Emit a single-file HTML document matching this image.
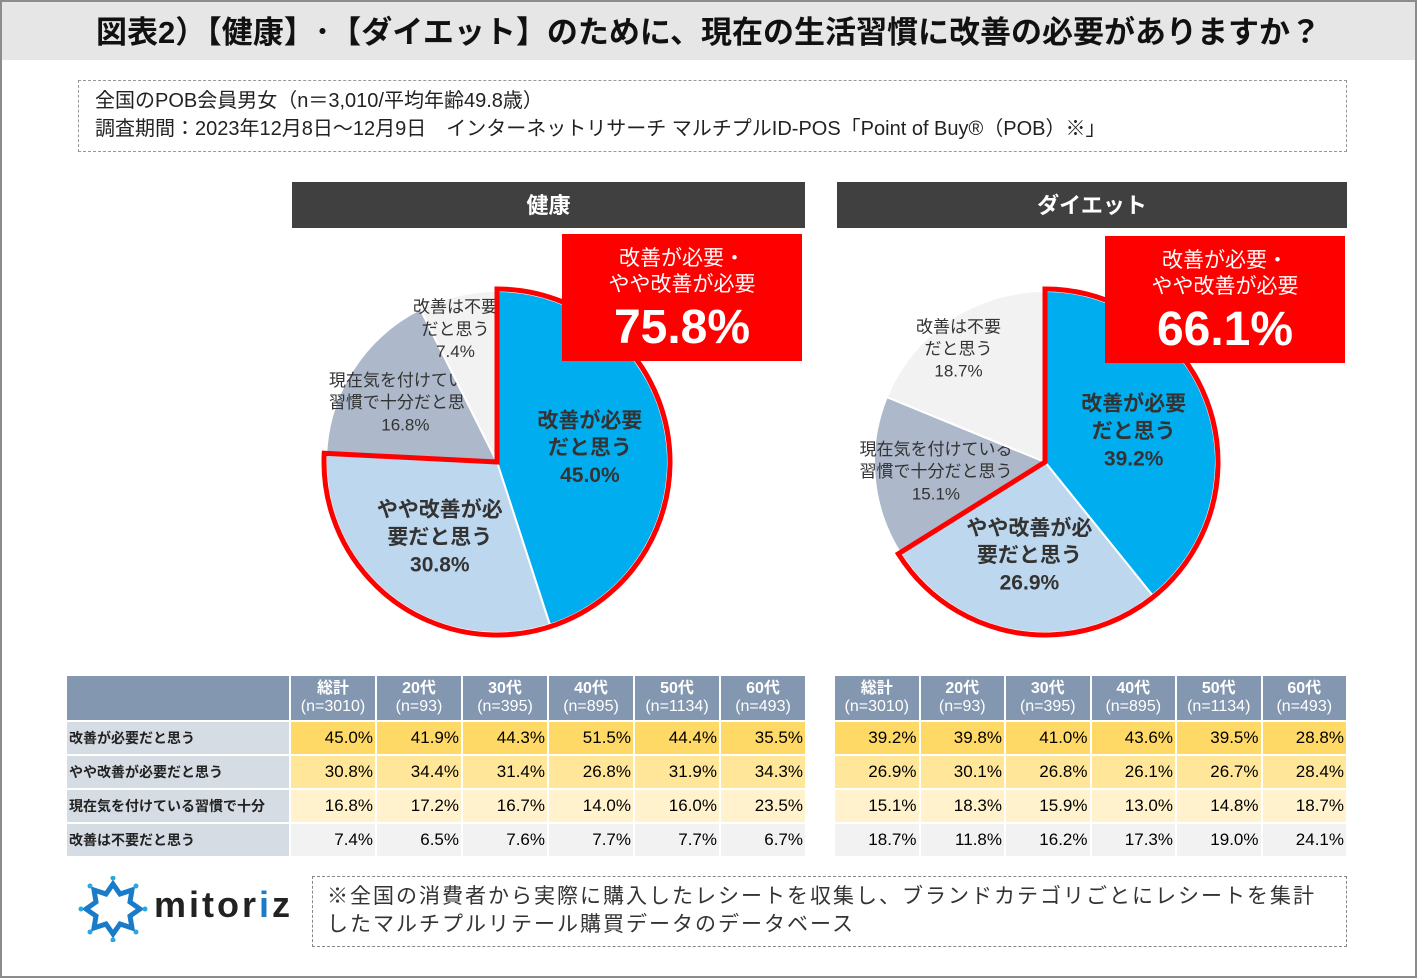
<!DOCTYPE html>
<html><head><meta charset="utf-8"><style>
*{margin:0;padding:0;box-sizing:border-box}
body{width:1417px;height:978px;background:#fff;font-family:"Liberation Sans","Noto Sans CJK JP",sans-serif;position:relative;overflow:hidden}
.abs{position:absolute}
#frame{left:0;top:0;width:1417px;height:978px;border:2px solid #8c8c8c}
#title{left:2px;top:2px;width:1413px;height:58px;background:#e7e6e6;font-weight:bold;font-size:31px;text-align:center;line-height:62px;color:#111}
#info{left:78px;top:80px;width:1269px;height:72px;border:1.5px dashed #999;font-size:20px;line-height:28px;padding:6px 16px;color:#222}
.sec{height:46px;background:#404040;color:#fff;font-weight:bold;font-size:22px;text-align:center;line-height:48px}
.red{background:#f00;color:#fff;text-align:center;width:240px;height:127px}
.red .s{font-size:21px;line-height:26px;padding-top:12px}
.red .b{font-size:48px;font-weight:bold;line-height:60px}
table{position:absolute;border-collapse:separate;border-spacing:2px 2px;font-size:17px;table-layout:fixed}
td{padding:0 2px;height:32px;text-align:right}
th{background:#8497b0;color:#fff;font-size:16px;font-weight:bold;line-height:18px;height:44px}
td.l{background:#d6dce4;text-align:left;font-size:14px;padding-left:2px;font-weight:bold;color:#222}
tr.r1 td{background:#ffd966}tr.r2 td{background:#ffe699}tr.r3 td{background:#fff2cc}tr.r4 td{background:#f2f2f2}
tr td.l{background:#d6dce4}
#note{left:312px;top:876px;width:1035px;height:71px;border:1.5px dashed #888;font-size:21px;line-height:28px;padding:6px 14px;letter-spacing:2px;color:#333}
svg text{font-family:"Liberation Sans","Noto Sans CJK JP",sans-serif}
</style></head><body>
<div class="abs" id="frame"></div>
<div class="abs" id="title">図表2）【健康】･【ダイエット】のために、現在の生活習慣に改善の必要がありますか？</div>
<div class="abs" id="info">全国のPOB会員男女（n＝3,010/平均年齢49.8歳）<br>調査期間：2023年12月8日～12月9日　インターネットリサーチ マルチプルID-POS「Point of Buy®（POB）※」</div>
<div class="abs sec" style="left:292px;top:182px;width:513px">健康</div>
<div class="abs sec" style="left:837px;top:182px;width:510px">ダイエット</div>
<svg class="abs" id="pies" style="left:0;top:0" width="1417" height="978"></svg>
<div class="abs red" style="left:562px;top:234px"><div class="s">改善が必要・<br>やや改善が必要</div><div class="b">75.8%</div></div>
<div class="abs red" style="left:1105px;top:236px"><div class="s">改善が必要・<br>やや改善が必要</div><div class="b">66.1%</div></div>
<div id="tables"></div>
<svg class="abs" style="left:78px;top:876px" width="70" height="66">
<path d="M35 8 L42 18 L54 14 L52 26 L62 33 L52 40 L54 52 L42 48 L35 58 L28 48 L16 52 L18 40 L8 33 L18 26 L16 14 L28 18 Z" fill="none" stroke="#1a7cc9" stroke-width="5"/>
<g fill="#2aa7e0"><circle cx="35" cy="2" r="2.5"/><circle cx="35" cy="64" r="2.5"/><circle cx="3" cy="33" r="2.5"/><circle cx="67" cy="33" r="2.5"/><circle cx="12" cy="10" r="2.5"/><circle cx="58" cy="10" r="2.5"/><circle cx="12" cy="56" r="2.5"/><circle cx="58" cy="56" r="2.5"/></g></svg>
<div class="abs" style="left:154px;top:884px;font-size:36px;font-weight:bold;letter-spacing:3px;color:#222">mitor<span style="color:#1a7cc9">i</span>z</div>
<div class="abs" id="note">※全国の消費者から実際に購入したレシートを収集し、ブランドカテゴリごとにレシートを集計したマルチプルリテール購買データのデータベース</div>
<script>
const sliceLabels=[["改善が必要","だと思う"],["やや改善が必","要だと思う"],["現在気を付けている","習慣で十分だと思う"],["改善は不要","だと思う"]];
const healthValues=[45.0,30.8,16.8,7.4];
const dietValues=[39.2,26.9,15.1,18.7];
const colNames=["総計","20代","30代","40代","50代","60代"];
const colN=["(n=3010)","(n=93)","(n=395)","(n=895)","(n=1134)","(n=493)"];
const rowNames=["改善が必要だと思う","やや改善が必要だと思う","現在気を付けている習慣で十分","改善は不要だと思う"];
const healthTable=[[45.0,41.9,44.3,51.5,44.4,35.5],[30.8,34.4,31.4,26.8,31.9,34.3],[16.8,17.2,16.7,14.0,16.0,23.5],[7.4,6.5,7.6,7.7,7.7,6.7]];
const dietTable=[[39.2,39.8,41.0,43.6,39.5,28.8],[26.9,30.1,26.8,26.1,26.7,28.4],[15.1,18.3,15.9,13.0,14.8,18.7],[18.7,11.8,16.2,17.3,19.0,24.1]];
const colors=["#00aeef","#bdd7ee","#adb9ca","#f2f2f2"];
const NS="http://www.w3.org/2000/svg";
const svg=document.getElementById('pies');
function pt(cx,cy,r,p){const a=p/100*2*Math.PI;return [cx+r*Math.sin(a),cy-r*Math.cos(a)];}
function wedge(cx,cy,r,p0,p1){const a=pt(cx,cy,r,p0),b=pt(cx,cy,r,p1);const lg=(p1-p0)>50?1:0;return `M${cx},${cy} L${a[0]},${a[1]} A${r},${r} 0 ${lg} 1 ${b[0]},${b[1]} Z`;}
function drawPie(cx,cy,r,vals,name){
  let acc=0;
  const fs=[21,21,17,17];
  const rf=[0.55,0.55,0.64,0.8];
  vals.forEach((v,i)=>{
    const p=document.createElementNS(NS,'path');
    p.setAttribute('d',wedge(cx,cy,r,acc,acc+v));p.setAttribute('fill',colors[i]);p.setAttribute('stroke','#fff');p.setAttribute('stroke-width','2');
    
    
    svg.appendChild(p);
    const mid=acc+v/2;const c=pt(cx,cy,r*rf[i],mid);
    if(i==3)c[0]-=10;
    const t=document.createElementNS(NS,'text');
    t.setAttribute('text-anchor','middle');t.setAttribute('font-size',fs[i]);t.setAttribute('fill','#333');t.setAttribute('font-weight',i<2?'bold':'normal');
    
    
    const lines=[...sliceLabels[i],v.toFixed(1)+'%'];
    lines.forEach((s,k)=>{const ts=document.createElementNS(NS,'tspan');ts.setAttribute('x',c[0]);ts.setAttribute('y',c[1]+(k-1)*fs[i]*1.3+fs[i]*0.35);ts.textContent=s;t.appendChild(ts);});
    svg.appendChild(t);
    acc+=v;
  });
  const o=document.createElementNS(NS,'path');
  o.setAttribute('d',wedge(cx,cy,r+2,0,vals[0]+vals[1]));o.setAttribute('fill','none');o.setAttribute('stroke','#f00');o.setAttribute('stroke-width','5');o.setAttribute('stroke-linejoin','miter');
  
  
  svg.appendChild(o);
}
drawPie(497,462,171,healthValues,'health');
drawPie(1045,462,171,dietValues,'diet');
function drawTable(left,top,labelW,colW,data,name,withLabels){
  const tb=document.createElement('table');
  tb.style.left=left+'px';tb.style.top=top+'px';
  tb.style.width=((withLabels?labelW+2:0)+colW*6+14)+'px';
  
  
  let h='<colgroup>'+(withLabels?`<col style="width:${labelW}px">`:'')+colNames.map(()=>`<col style="width:${colW}px">`).join('')+'</colgroup>';
  h+='<tr>'+(withLabels?`<th></th>`:'');
  colNames.forEach((c,i)=>{h+=`<th>${c}<br><span style="font-weight:normal">${colN[i]}</span></th>`;});
  h+='</tr>';
  data.forEach((row,r)=>{h+=`<tr class="r${r+1}">`+(withLabels?`<td class="l">${rowNames[r]}</td>`:'');row.forEach(v=>{h+=`<td>${v.toFixed(1)}%</td>`;});h+='</tr>';});
  tb.innerHTML=h;
  document.getElementById('tables').appendChild(tb);
}
drawTable(65,674,222,84,healthTable,'health',true);
drawTable(833,674,0,83.5,dietTable,'diet',false);
</script>
</body></html>
